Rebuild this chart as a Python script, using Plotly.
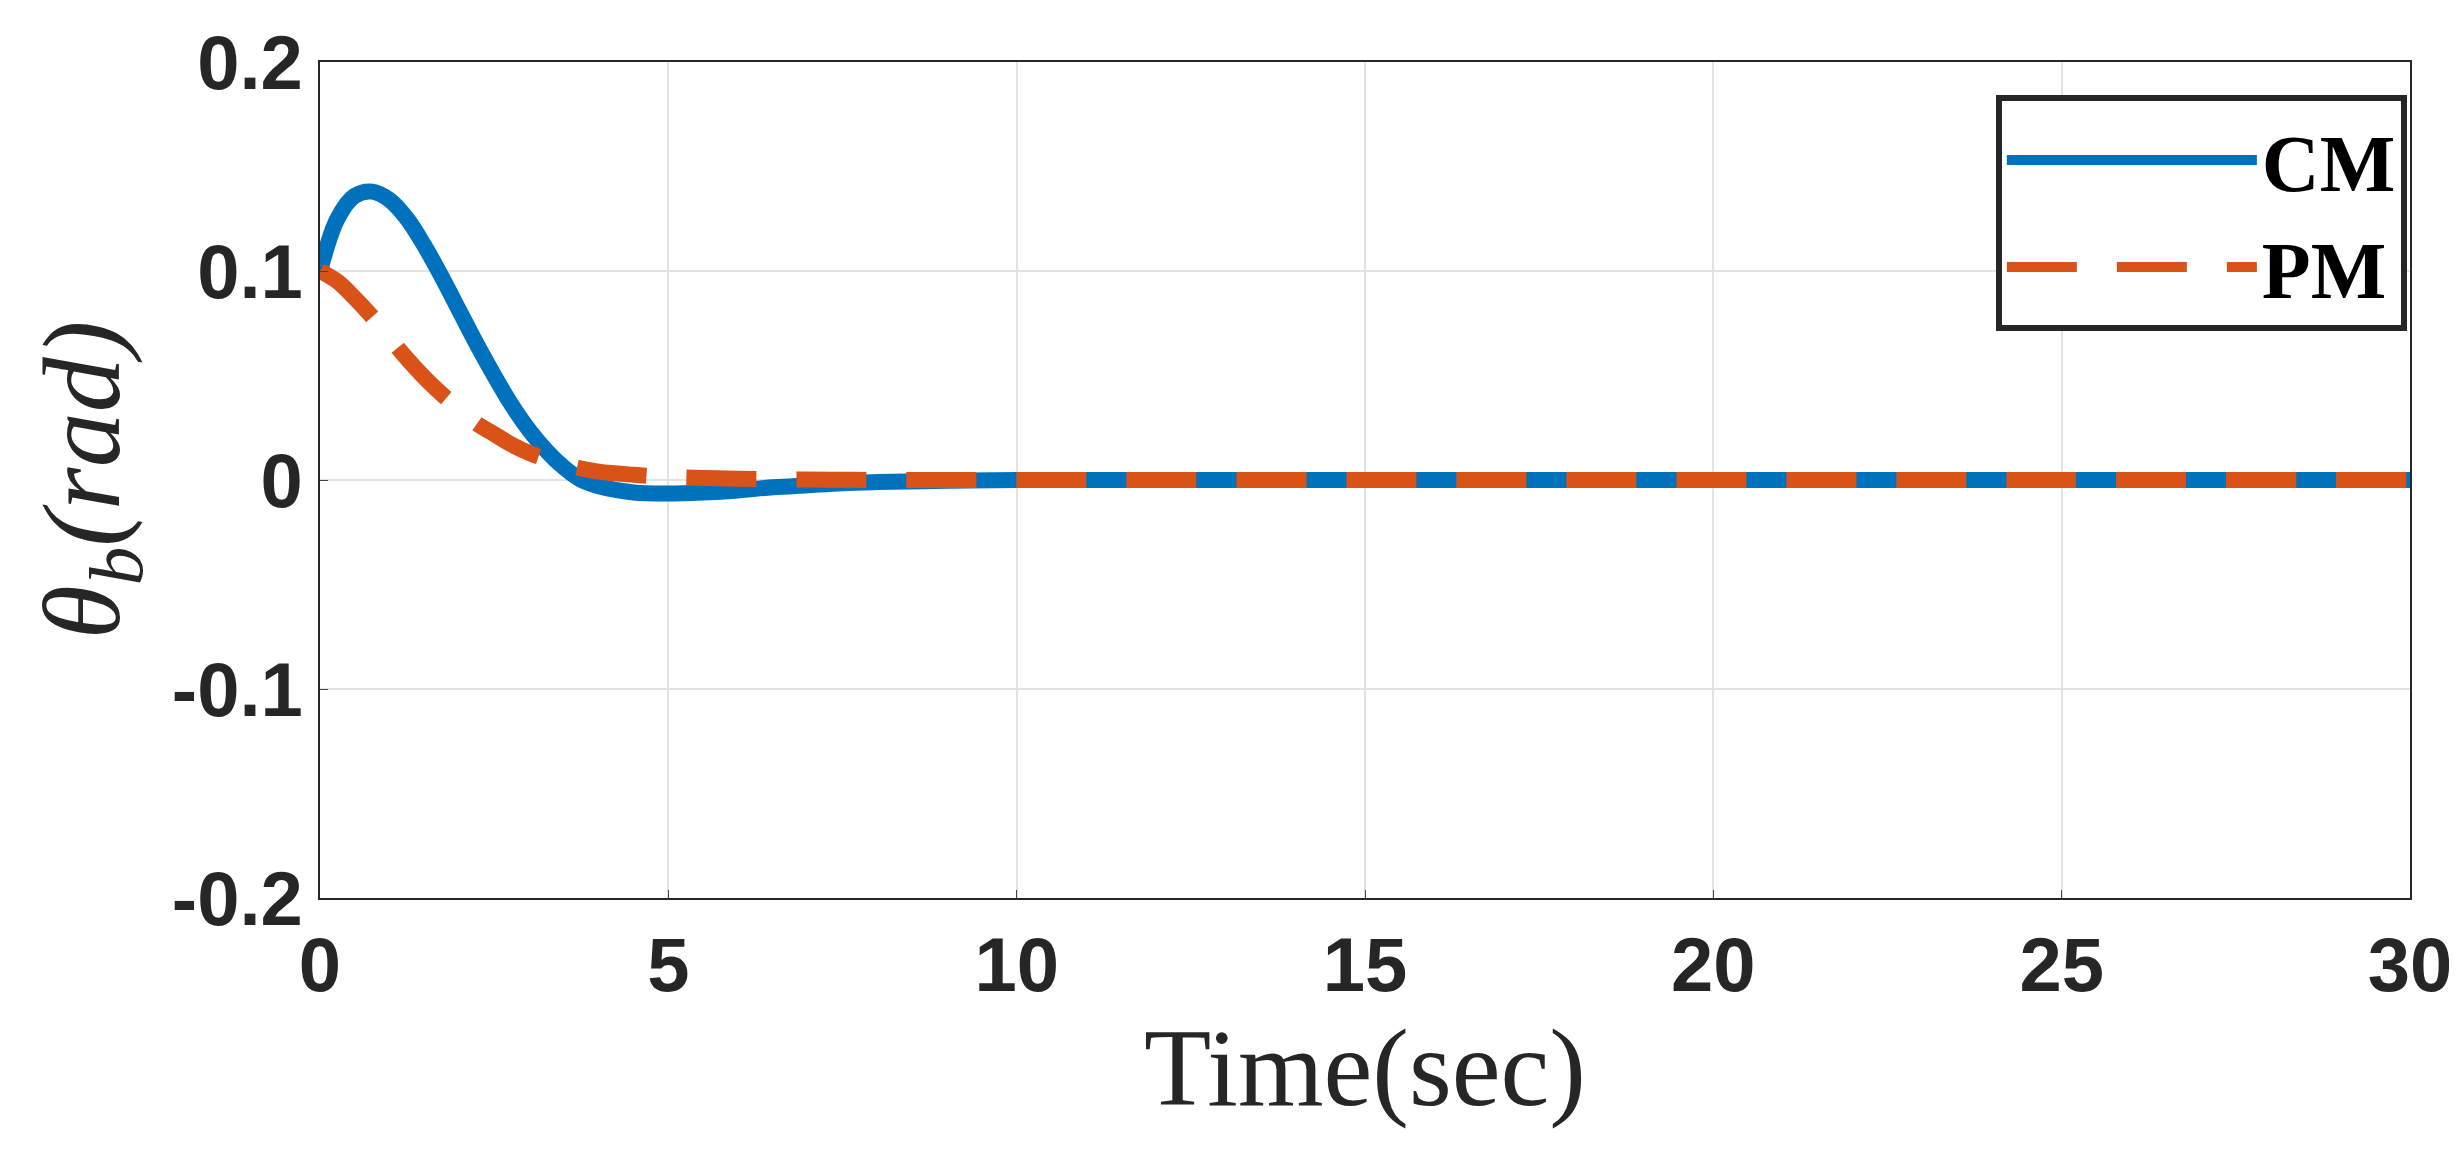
import plotly.graph_objects as go

# values
t = [0, 0.25, 0.5, 0.75, 1.0, 1.25, 1.5, 1.75, 2.0, 2.25, 2.5, 2.75, 3.0, 3.25, 3.5, 3.75,
     4.0, 4.5, 5.0, 5.5, 6.0, 6.5, 7.0, 7.5, 8.0, 9.0, 10, 15, 20, 25, 30]
cm = [0.100, 0.125, 0.136, 0.138, 0.134, 0.125, 0.112, 0.097, 0.081, 0.065, 0.050, 0.036, 0.024,
      0.014, 0.006, 0.000, -0.003, -0.006, -0.0065, -0.006, -0.005, -0.0035, -0.0025, -0.0015,
      -0.001, -0.0004, 0, 0, 0, 0, 0]
pm = [0.100, 0.095, 0.087, 0.078, 0.068, 0.058, 0.049, 0.041, 0.034, 0.027, 0.022, 0.017, 0.013,
      0.010, 0.0075, 0.0055, 0.004, 0.0025, 0.0015, 0.001, 0.0006, 0.0004, 0.0002, 0.0001,
      0, 0, 0, 0, 0, 0, 0]

fig = go.Figure()
fig.add_trace(go.Scatter(x=t, y=cm, name="CM", mode="lines",
                         line=dict(color="#0072BD", width=16, shape="spline")))
fig.add_trace(go.Scatter(x=t, y=pm, name="PM", mode="lines",
                         line=dict(color="#D95319", width=16, dash="70px,40px", shape="spline")))

axis_font = dict(family="Liberation Sans Narrow, Arial Narrow, Liberation Sans", size=76,
                 color="#262626", weight="bold")
title_font = dict(family="Liberation Serif", size=110, color="#262626")
fig.update_layout(
    width=2457, height=1161,
    paper_bgcolor="white", plot_bgcolor="white",
    margin=dict(l=312, r=55, t=52, b=271),
    font=dict(family="Liberation Serif", color="#262626"),
    xaxis=dict(range=[0, 30], tickvals=[0, 5, 10, 15, 20, 25, 30], tickfont=axis_font,
               showgrid=True, gridcolor="#e3e3e3", gridwidth=1.5,
               showline=True, linecolor="#262626", linewidth=2, mirror=True,
               ticks="inside", ticklen=8, zeroline=False,
               title=dict(text="Time(sec)", font=title_font, standoff=10)),
    yaxis=dict(range=[-0.2, 0.2], tickvals=[-0.2, -0.1, 0, 0.1, 0.2],
               ticktext=["-0.2", "-0.1", "0", "0.1", "0.2"], tickfont=axis_font,
               showgrid=True, gridcolor="#e3e3e3", gridwidth=1.5,
               showline=True, linecolor="#262626", linewidth=2, mirror=True,
               ticks="inside", ticklen=8, zeroline=False,
               title=dict(text="<i>θ<sub>b</sub>(rad)</i>", font=title_font, standoff=15)),
    legend=dict(x=0.9985, y=0.96, xanchor="right", yanchor="top",
                bgcolor="white", bordercolor="#262626", borderwidth=6,
                font=dict(family="Liberation Serif", size=80, color="black", weight="bold"),
                itemwidth=250, tracegroupgap=0),
)

fig.write_html("out.html")
